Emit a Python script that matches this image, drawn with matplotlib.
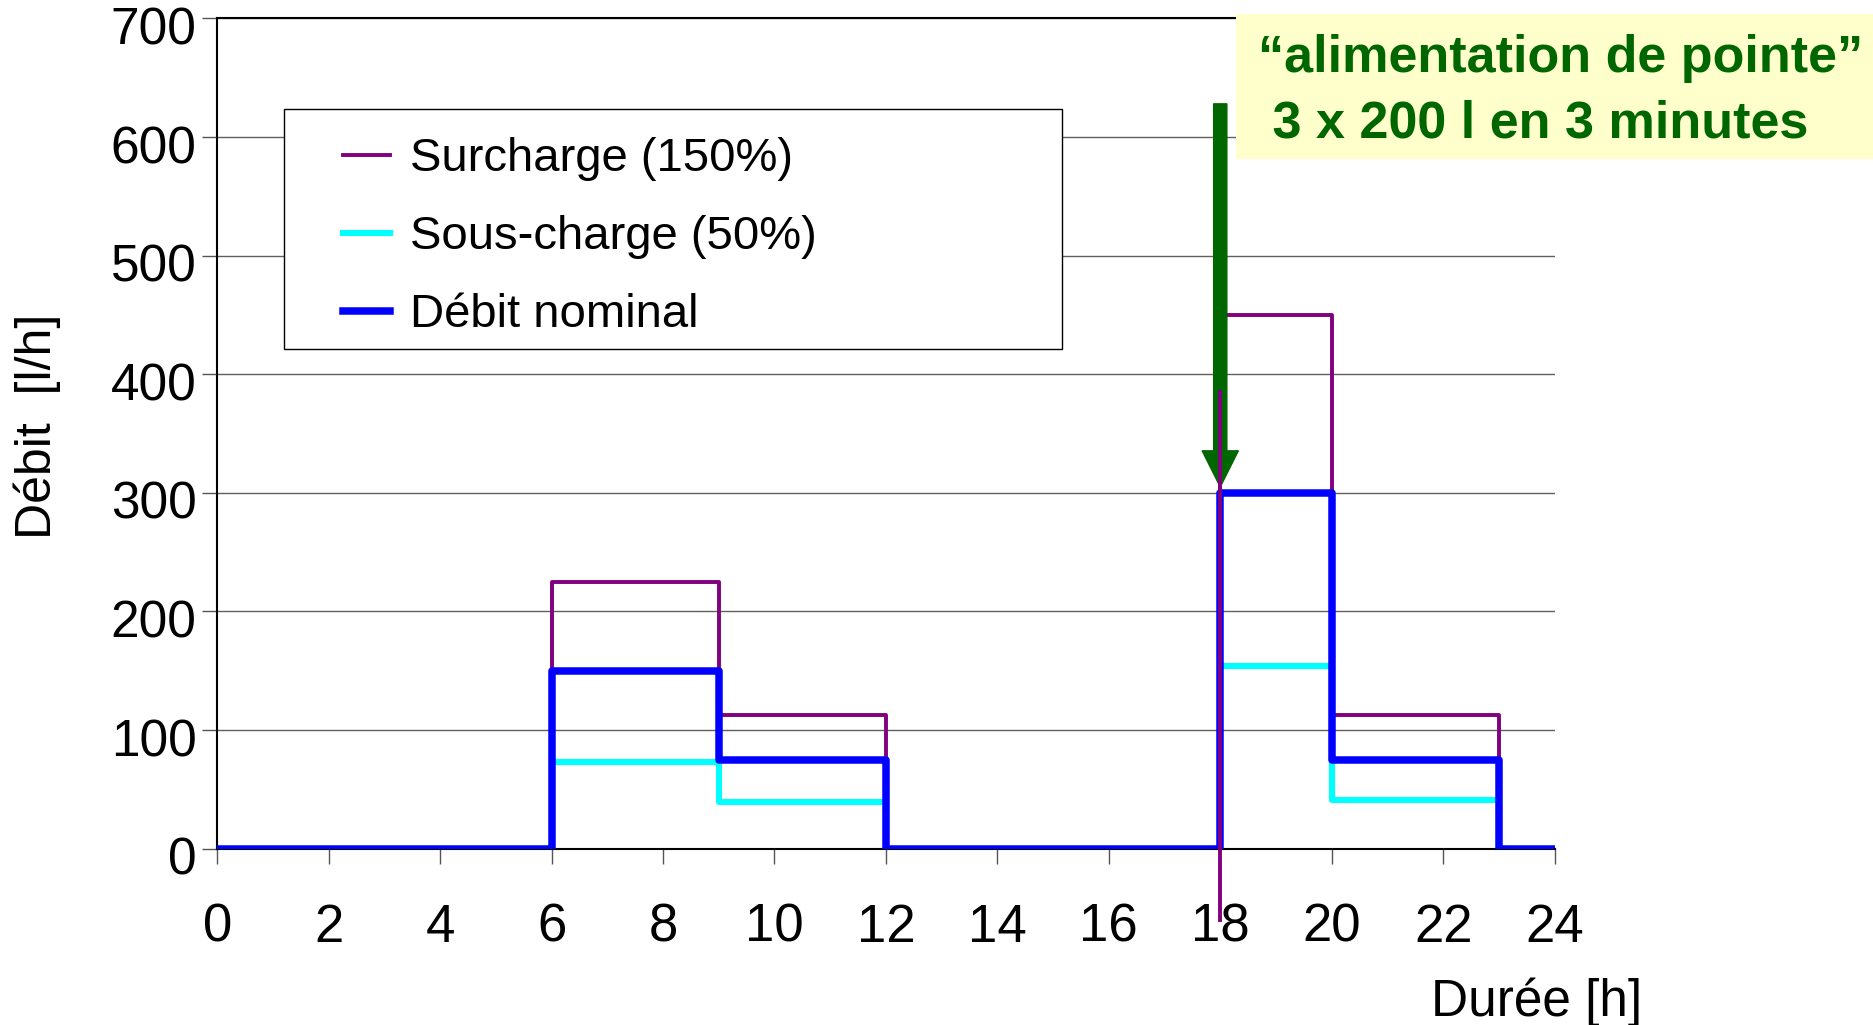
import matplotlib.pyplot as plt
import matplotlib.transforms as mtransforms
from matplotlib.patches import Rectangle

plt.rcParams['font.family'] = ['Liberation Sans', 'DejaVu Sans']

# paliers horaires (h) et débits (l/h) sur chaque palier
hours = [0, 6, 9, 12, 18, 20, 23, 24]
nominal = [0, 150, 75, 0, 300, 75, 0]
surcharge = [0, 225, 112.5, 0, 450, 112.5, 0]
souscharge = [0, 73, 39, 0, 154, 41, 0]

# petit trait violet qui dépasse à 18 h
spike_x = [18, 18]
spike_y = [-60, 385]

# flèche "alimentation de pointe"
arrow_x = 18
arrow_top = 628
arrow_tip = 305

xticks = list(range(0, 25, 2))
yticks = list(range(0, 701, 100))

purple = '#800080'
cyan = '#00FFFF'
blue = '#0000FF'
green = '#006600'

fig = plt.figure(figsize=(18.73, 10.25), dpi=100)
ax = fig.add_axes([0.116, 0.172, 0.714, 0.810])

# step 'post' : il faut répéter la dernière valeur
l1, = ax.step(hours, surcharge + surcharge[-1:], where='post', color=purple, lw=2.8, zorder=3)
l2, = ax.step(hours, souscharge + souscharge[-1:], where='post', color=cyan, lw=4.4, zorder=4)
l3, = ax.step(hours, nominal + nominal[-1:], where='post', color=blue, lw=5.4, zorder=5)

ax.annotate('', xy=(arrow_x, arrow_tip), xytext=(arrow_x, arrow_top),
            arrowprops=dict(arrowstyle='simple,head_width=2.6,head_length=2.6,tail_width=0.95',
                            color=green, shrinkA=0, shrinkB=0), zorder=6)
ax.plot(spike_x, spike_y, color=purple, lw=2.8, zorder=7, clip_on=False)

ax.set_xlim(0, 24)
ax.set_ylim(0, 700)
ax.set_xticks(xticks)
ax.set_yticks(yticks)
ax.yaxis.grid(True, color='#606060', lw=1)
ax.set_axisbelow(True)
for s in ['top', 'left', 'bottom']:
    ax.spines[s].set_color('black')
    ax.spines[s].set_linewidth(1.5)
ax.spines['right'].set_visible(False)
ax.tick_params(axis='both', direction='out', length=11, width=1, color='#555555')
ax.tick_params(axis='x', pad=28, labelsize=38)
ax.tick_params(axis='y', pad=4, labelsize=37)

# les étiquettes de l'axe y sont un peu sous leur graduation
shift = mtransforms.ScaledTranslation(0, -0.07, fig.dpi_scale_trans)
for lab in ax.get_yticklabels():
    lab.set_transform(lab.get_transform() + shift)

fig.text(0.020, 0.584, 'Débit  [l/h]', rotation=90, ha='center', va='center', fontsize=36)
fig.text(0.877, 0.022, 'Durée [h]', ha='right', va='center', fontsize=37)

# cadre de la légende
fig.patches.append(Rectangle((0.1516, 0.6595), 0.4154, 0.2341, transform=fig.transFigure,
                             facecolor='white', edgecolor='black', lw=1, zorder=8))
leg = fig.legend([l1, l2, l3], ['Surcharge (150%)', 'Sous-charge (50%)', 'Débit nominal'],
                 loc='upper left', bbox_to_anchor=(0.1705, 0.889), frameon=False,
                 fontsize=34, handlelength=1.0, handletextpad=0.42, labelspacing=0.72,
                 borderpad=0)
leg.set_zorder(9)

# encadré jaune
fig.patches.append(Rectangle((0.66, 0.845), 0.34, 0.1415, transform=fig.transFigure,
                             facecolor='#FFFFCC', edgecolor='none', zorder=8))
fig.text(0.6715, 0.943, '\u201calimentation de pointe\u201d', color=green, fontsize=37.5,
         fontweight='bold', ha='left', va='center', zorder=9)
fig.text(0.6715, 0.879, ' 3 x 200 l en 3 minutes', color=green, fontsize=37.5,
         fontweight='bold', ha='left', va='center', zorder=9)

fig.savefig('out.png', dpi=100)
